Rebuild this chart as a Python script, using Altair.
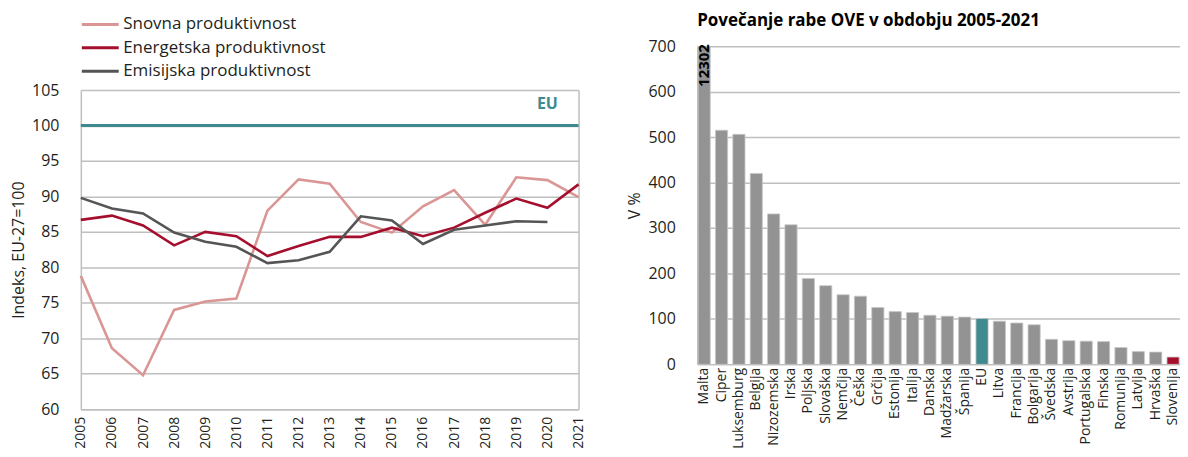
import altair as alt
import pandas as pd

# ---------------- data: left chart ----------------
years = list(range(2005, 2022))
series_names = ["Snovna produktivnost", "Energetska produktivnost", "Emisijska produktivnost"]
snovna = [78.8, 68.6, 64.8, 74.0, 75.2, 75.6, 88.0, 92.4, 91.8, 86.4, 84.9, 88.6, 90.9, 86.0, 92.7, 92.3, 89.9]
energetska = [86.7, 87.3, 85.9, 83.1, 85.0, 84.4, 81.6, 83.0, 84.3, 84.3, 85.6, 84.4, 85.6, 87.7, 89.7, 88.4, 91.7]
emisijska = [89.8, 88.3, 87.6, 84.9, 83.6, 82.9, 80.6, 81.0, 82.2, 87.2, 86.6, 83.3, 85.3, 85.9, 86.5, 86.4, None]
y_ticks_left = [60, 65, 70, 75, 80, 85, 90, 95, 100, 105]
eu_level = [100]
eu_label = ["EU"]
eu_label_year = [2020]
eu_label_value = [103]

# ---------------- data: right chart ----------------
chart_title = "Povečanje rabe OVE v obdobju 2005-2021"
countries = ["Malta", "Ciper", "Luksemburg", "Belgija", "Nizozemska", "Irska", "Poljska",
             "Slovaška", "Nemčija", "Češka", "Grčija", "Estonija", "Italija", "Danska",
             "Madžarska", "Španija", "EU", "Litva", "Francija", "Bolgarija", "Švedska",
             "Avstrija", "Portugalska", "Finska", "Romunija", "Latvija", "Hrvaška", "Slovenija"]
ove_increase = [12302, 515, 506, 420, 331, 307, 189, 173, 153, 150, 125, 116, 114, 108,
                106, 104, 101, 95, 91, 87, 55, 52, 51, 50, 37, 28, 27, 16]
y_ticks_right = [0, 100, 200, 300, 400, 500, 600, 700]

# ---------------- style ----------------
FONT = "Open Sans"
TEXT = "#231f20"
GRID = "#bfbfbf"
TEAL = "#3e8a8f"
RED = "#a50f2d"
PINK = "#d99694"
DGRAY = "#555555"
BARGRAY = "#939393"

rows = []
for name, vals in zip(series_names, [snovna, energetska, emisijska]):
    for yr, v in zip(years, vals):
        if v is not None:
            rows.append({"year": yr, "value": v, "series": name})
lines_df = pd.DataFrame(rows)
eu_df = pd.DataFrame({"eu": eu_level})
eu_lab_df = pd.DataFrame({"year": eu_label_year, "value": eu_label_value, "label": eu_label})

yscale_left = alt.Scale(domain=[60, 105], range=[364, 44], zero=False, nice=False)
xscale_left = alt.Scale(domain=[2005, 2021], zero=False, nice=False)
xaxis_left = alt.Axis(values=years, format="d", labelAngle=-90, grid=False, ticks=False,
                      domainColor=GRID, domainWidth=1.5, labelPadding=7, labelFontSize=14,
                      labelFlush=False, labelOverlap=False)

lines = alt.Chart(lines_df).mark_line(strokeWidth=2.6).encode(
    x=alt.X("year:Q", scale=xscale_left, title=None, axis=xaxis_left),
    y=alt.Y("value:Q", scale=yscale_left, title="Indeks, EU-27=100",
            axis=alt.Axis(values=y_ticks_left, ticks=False, labelPadding=22, gridColor=GRID,
                          gridWidth=1.5, domainColor=GRID, domainWidth=1.5, titlePadding=5,
                          labelFlush=False, labelOverlap=False)),
    color=alt.Color("series:N", sort=series_names,
                    scale=alt.Scale(domain=series_names, range=[PINK, RED, DGRAY]),
                    legend=alt.Legend(orient="none", legendX=8, legendY=-33.3, title=None,
                                      symbolType="M-1.85,0H1.85", symbolSize=400,
                                      symbolStrokeWidth=3,
                                      labelFontSize=17, labelFont=FONT, labelColor=TEXT,
                                      labelLimit=400, rowPadding=3.5, labelOffset=11.5,
                                      padding=0)),
)

eu_rule = alt.Chart(eu_df).mark_rule(color=TEAL, strokeWidth=3).encode(
    y=alt.Y("eu:Q", scale=yscale_left, title=None,
            axis=alt.Axis(orient="right", labels=False, ticks=False, grid=False,
                          domainColor=GRID, domainWidth=1.5)),
)

eu_text = alt.Chart(eu_lab_df).mark_text(color=TEAL, fontWeight="bold", fontSize=16,
                                         font=FONT).encode(
    x=alt.X("year:Q", scale=xscale_left, title=None, axis=xaxis_left),
    y=alt.Y("value:Q", scale=yscale_left, axis=None),
    text="label:N",
)

left = alt.layer(lines, eu_rule, eu_text).resolve_axis(y="independent").properties(
    width=499, height=364)

# ---------------- right chart ----------------
bars_df = pd.DataFrame({"country": countries, "value": ove_increase})
right_base = alt.Chart(bars_df).transform_calculate(
    grp="datum.country == 'EU' ? 'EU' : (datum.country == 'Slovenija' ? 'SI' : 'other')",
    shown="min(datum.value, %d)" % y_ticks_right[-1],
)

xband = alt.X("country:N", sort=countries, title=None,
              scale=alt.Scale(paddingInner=0.3, paddingOuter=0.05),
              axis=alt.Axis(labelAngle=-90, ticks=False, domain=False, labelPadding=3,
                            labelFontSize=14))
yright = alt.Scale(domain=[0, y_ticks_right[-1]], nice=False)

bars = right_base.mark_bar(clip=True, stroke="#c8c8c8", strokeWidth=0.8).encode(
    x=xband,
    y=alt.Y("shown:Q", scale=yright, title="V %",
            axis=alt.Axis(values=y_ticks_right, ticks=False, labelPadding=22, titlePadding=5,
                          gridColor=GRID, gridWidth=1.5, domainColor=GRID, domainWidth=1.5)),
    color=alt.Color("grp:N", scale=alt.Scale(domain=["other", "EU", "SI"],
                                             range=[BARGRAY, TEAL, RED]), legend=None),
)

bar_label = right_base.transform_filter("datum.value > %d" % y_ticks_right[-1]).mark_text(
    angle=270, align="right", baseline="middle", fontWeight="bold", fontSize=15,
    font=FONT, color="#000000", dx=2).encode(
    x=xband,
    y=alt.Y("shown:Q", scale=yright),
    text="value:Q",
)

right = alt.layer(bars, bar_label).properties(
    width=484, height=319,
    title=alt.TitleParams(chart_title, anchor="start", frame="group", fontSize=17,
                          fontWeight="bold", font=FONT, color="#000000", offset=8, dx=0),
)

chart = alt.hconcat(left, right, spacing=41).resolve_scale(color="independent").properties(
    padding={"left": 2, "top": 3.7, "right": 0, "bottom": 0}
).configure_view(stroke=None).configure_axis(
    labelFont=FONT, titleFont=FONT, labelColor=TEXT, titleColor=TEXT,
    titleFontWeight="normal", labelFontSize=16, titleFontSize=16,
).configure_legend(labelFont=FONT)

chart.save("out.html", embed_options={"renderer": "svg", "actions": False})
